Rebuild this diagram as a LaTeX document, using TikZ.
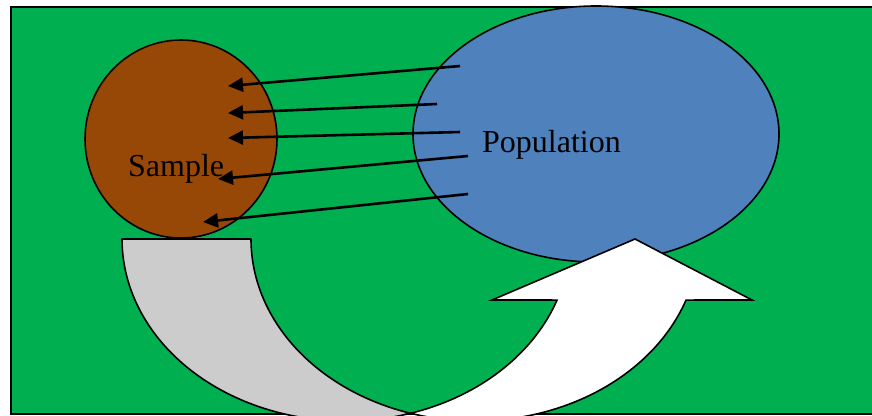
\documentclass[tikz,border=0pt]{standalone}
\usepackage{fontspec}
\setmainfont{Liberation Serif}
\usetikzlibrary{shapes.geometric,arrows.meta}
\definecolor{bggreen}{HTML}{00B050}
\definecolor{popblue}{HTML}{4F81BD}
\definecolor{sambrown}{HTML}{974706}
\definecolor{backgray}{HTML}{CCCCCC}
\begin{document}
\begin{tikzpicture}[x=1pt,y=-1pt,
  outline/.style={draw=black,line width=1.6pt},
  ptr/.style={line width=2.6pt,-{Triangle[length=15pt,width=14pt]}},
  lbl/.style={font=\fontsize{32}{38}\selectfont,inner sep=0pt,anchor=base west}]
\useasboundingbox (0,0) rectangle (872,415);
\clip (0,0) rectangle (872,415);
% frame
\node[rectangle, outline, fill=bggreen, anchor=north west, minimum width=880pt, minimum height=407pt, inner sep=0pt] (frame) at (10,6) {};
% shapes
\node[ellipse, outline, fill=popblue, minimum width=366pt, minimum height=256pt, inner sep=0pt] (population) at (596,134) {};
\node[ellipse, outline, fill=sambrown, minimum width=192pt, minimum height=198pt, inner sep=0pt] (sample) at (181,139) {};
\node[lbl] (sampletext) at (128,176) {Sample};
\node[lbl] (poptext) at (482,152) {Population};
% arrow ends
\coordinate (p1) at (460,66);  \coordinate (s1) at (228,86);
\coordinate (p2) at (437,104); \coordinate (s2) at (228,113);
\coordinate (p3) at (460,132); \coordinate (s3) at (228,138);
\coordinate (p4) at (468,156); \coordinate (s4) at (218,179);
\coordinate (p5) at (468,194); \coordinate (s5) at (203,222);
\foreach \i in {1,...,5}{\draw[ptr] (p\i) -- (s\i);}
% curved up arrow: back band
\draw[outline, fill=backgray, line join=round]
  plot[variable=\t, domain=180:73.3, samples=90, smooth] ({346+224*cos(\t)},{239+182*sin(\t)})
  -- plot[variable=\t, domain=106.7:180, samples=70, smooth] ({475+224*cos(\t)},{239+182*sin(\t)})
  -- cycle;
% curved up arrow: front band with head
\draw[outline, fill=white, line join=miter]
  (492,300)
  -- plot[variable=\t, domain=19.6:73.3, samples=60, smooth] ({346+224*cos(\t)},{239+182*sin(\t)})
  -- plot[variable=\t, domain=106.7:19.6, samples=60, smooth] ({475+224*cos(\t)},{239+182*sin(\t)})
  -- (752,300) -- (635,239) -- cycle;
\end{tikzpicture}
\end{document}
